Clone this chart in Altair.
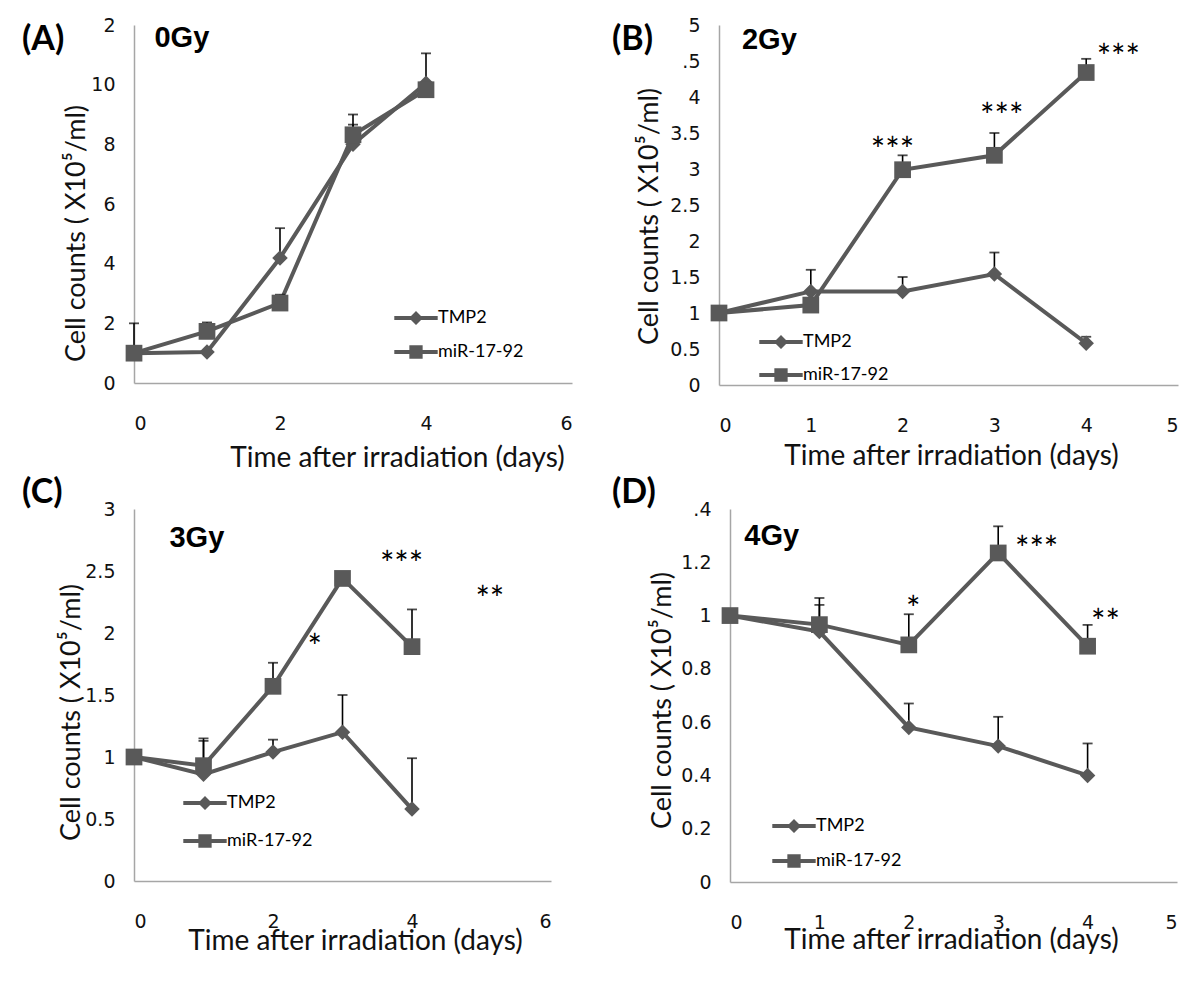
import altair as alt
import pandas as pd

# ---------------- data ----------------
days = [0, 1, 2, 3, 4]
series_names = ["TMP2", "miR-17-92"]

a_tmp2 = [1.0, 1.04, 4.19, 8.0, 10.05]
a_tmp2_err = [1.0, 0.0, 1.0, 0.66, 1.0]
a_mir = [1.0, 1.73, 2.68, 8.32, 9.83]
a_mir_err = [0.0, 0.30, 0.28, 0.68, 0.0]

b_tmp2 = [1.0, 1.30, 1.30, 1.54, 0.58]
b_tmp2_err = [0.0, 0.30, 0.20, 0.30, 0.09]
b_mir = [1.0, 1.11, 2.99, 3.19, 4.34]
b_mir_err = [0.0, 0.0, 0.20, 0.31, 0.19]

c_tmp2 = [1.0, 0.86, 1.04, 1.20, 0.58]
c_tmp2_err = [0.0, 0.27, 0.10, 0.30, 0.41]
c_mir = [1.0, 0.93, 1.57, 2.44, 1.89]
c_mir_err = [0.0, 0.22, 0.19, 0.0, 0.30]

d_tmp2 = [1.0, 0.94, 0.58, 0.51, 0.40]
d_tmp2_err = [0.0, 0.10, 0.09, 0.11, 0.12]
d_mir = [1.0, 0.966, 0.89, 1.235, 0.885]
d_mir_err = [0.0, 0.10, 0.115, 0.10, 0.08]

# significance stars (position in data units)
b_star_x = [1.89, 3.08, 4.35]
b_star_y = [3.36, 3.84, 4.65]
b_star_text = ["***", "***", "***"]
c_star_x = [2.60, 3.85, 5.12]
c_star_y = [1.94, 2.61, 2.33]
c_star_text = ["*", "***", "**"]
d_star_x = [2.05, 3.43, 4.20]
d_star_y = [1.05, 1.275, 1.004]
d_star_text = ["*", "***", "**"]

# panel tags and dose labels (position in data units of each panel)
panel_tags = ["(A)", "(B)", "(C)", "(D)"]
tag_x = [-1.534, -1.166, -1.61, -1.32]
tag_y = [11.5, 4.79, 3.129, 1.46]
dose_text = ["0Gy", "2Gy", "3Gy", "4Gy"]
dose_x = [0.28, 0.25, 0.51, 0.16]
dose_y = [11.57, 4.79, 2.77, 1.30]

a_xticks = [0, 2, 4, 6]
b_xticks = [0, 1, 2, 3, 4, 5]
c_xticks = [0, 2, 4, 6]
d_xticks = [0, 1, 2, 3, 4, 5]
a_yticks = [0, 2, 4, 6, 8, 10, 12]
b_yticks = [0, 0.5, 1, 1.5, 2, 2.5, 3, 3.5, 4, 4.5, 5]
c_yticks = [0, 0.5, 1, 1.5, 2, 2.5, 3]
d_yticks = [0, 0.2, 0.4, 0.6, 0.8, 1.0, 1.2, 1.4]

X_TITLE = "Time after irradiation (days)"
Y_TITLE = "Cell counts ( X10\u2075/ml)"

FONT = "Lato"
TICK_FONT = "DejaVu Sans"
LINE = "#595959"

# legend symbols: marker with a line through it (coordinates in unit box)
DIAMOND_PATH = "M-3.1,-0.28H3.1V0.28H-3.1Z M0,-1L1,0L0,1L-1,0Z"
SQUARE_PATH = "M-3.1,-0.28H3.1V0.28H-3.1Z M-0.95,-0.95H0.95V0.95H-0.95Z"


def series_frame(tmp2, tmp2_err, mir, mir_err):
    rows = []
    for d, v, e in zip(days, tmp2, tmp2_err):
        rows.append({"day": d, "value": v, "err": e, "series": series_names[0]})
    for d, v, e in zip(days, mir, mir_err):
        rows.append({"day": d, "value": v, "err": e, "series": series_names[1]})
    return pd.DataFrame(rows)


def make_panel(i, tmp2, tmp2_err, mir, mir_err, xmax, xticks, ymax, yticks,
               label_fix, width, height, stars, layout):
    df = series_frame(tmp2, tmp2_err, mir, mir_err)
    xaxis = alt.Axis(
        values=xticks, format="~g", title=X_TITLE, labelPadding=layout["xlp"],
        labelFont=TICK_FONT, labelFontSize=19,
        titleX=layout["xtx"], titleY=layout["xty"], titleAlign="center",
        titleBaseline="middle", titleFontSize=28,
    )
    lab_expr = "datum.label"
    if label_fix is not None:
        lab_expr = f"datum.value == {label_fix[0]} ? '{label_fix[1]}' : datum.label"
    yaxis = alt.Axis(
        values=yticks, format="~g", title=Y_TITLE, labelPadding=19,
        labelFont=TICK_FONT, labelFontSize=19,
        labelExpr=lab_expr, titleX=layout["ytx"], titleY=layout["yty"],
        titleAngle=270, titleAlign="center", titleBaseline="middle",
        titleFontSize=27,
    )
    xs = alt.Scale(domain=[0, xmax], nice=False, zero=True)
    ys = alt.Scale(domain=[0, ymax], nice=False, zero=True)
    X = alt.X("day:Q", scale=xs, axis=xaxis)
    Y = alt.Y("value:Q", scale=ys, axis=yaxis)

    base = alt.Chart(df)
    line = base.mark_line(color=LINE, strokeWidth=4).encode(
        x=X, y=Y, detail="series:N")
    err = base.transform_filter("datum.err > 0").transform_calculate(
        top="datum.value + datum.err")
    bars = err.mark_rule(color="black", strokeWidth=1.6).encode(
        x=X, y=Y, y2="top:Q")
    caps = err.mark_tick(orient="horizontal", color="black", thickness=1.8,
                         size=10).encode(x=X, y=alt.Y("top:Q", scale=ys, axis=yaxis))
    diam = base.transform_filter(
        alt.datum.series == series_names[0]).mark_point(
        shape="diamond", filled=True, color=LINE, size=240, opacity=1).encode(x=X, y=Y)
    sq = base.transform_filter(
        alt.datum.series == series_names[1]).mark_point(
        shape="square", filled=True, color=LINE, size=280, opacity=1).encode(x=X, y=Y)

    legend = alt.Legend(
        title=None, orient="none", legendX=layout["lx"], legendY=layout["ly"],
        symbolSize=196, symbolFillColor=LINE, symbolOpacity=1, labelFont=FONT,
        labelFontSize=18, labelColor="black", labelOffset=13,
        rowPadding=layout["lrp"], padding=0,
    )
    leg = base.transform_filter("false").mark_point(
        filled=True, color=LINE, opacity=1).encode(
        x=X, y=Y,
        shape=alt.Shape("series:N", scale=alt.Scale(
            domain=series_names, range=[DIAMOND_PATH, SQUARE_PATH]), legend=legend))

    lab_df = pd.DataFrame({"day": [dose_x[i]], "value": [dose_y[i]], "t": [dose_text[i]]})
    dose = alt.Chart(lab_df).mark_text(
        font="Liberation Sans", fontWeight="bold", fontSize=29, align="left",
        baseline="middle", color="black").encode(x=X, y=Y, text="t:N")
    tag_df = pd.DataFrame({"day": [tag_x[i]], "value": [tag_y[i]], "t": [panel_tags[i]]})
    tag = alt.Chart(tag_df).mark_text(
        font=FONT, fontWeight="bold", fontSize=34, align="left",
        baseline="middle", color="black").encode(x=X, y=Y, text="t:N")

    layers = [line, bars, caps, diam, sq, leg, dose, tag]
    if stars is not None:
        sdf = pd.DataFrame({"day": stars[0], "value": stars[1], "t": stars[2]})
        st = alt.Chart(sdf).mark_text(
            font=FONT, fontSize=34, align="center", baseline="middle", dy=9,
            color="black").encode(x=X, y=Y, text="t:N")
        layers.append(st)

    return alt.layer(*layers).properties(width=width, height=height)


A = make_panel(0, a_tmp2, a_tmp2_err, a_mir, a_mir_err, 6, a_xticks, 12, a_yticks,
               (12, "2"), 438, 358, None,
               dict(xlp=31, xtx=263, xty=75, ytx=-58, yty=208,
                    lx=273, ly=284, lrp=14))
B = make_panel(1, b_tmp2, b_tmp2_err, b_mir, b_mir_err, 5, b_xticks, 5, b_yticks,
               (4.5, ".5"), 459, 360, (b_star_x, b_star_y, b_star_text),
               dict(xlp=31, xtx=232, xty=71, ytx=-70, yty=191,
                    lx=53, ly=308, lrp=13))
C = make_panel(2, c_tmp2, c_tmp2_err, c_mir, c_mir_err, 6, c_xticks, 3, c_yticks,
               None, 417, 372, (c_star_x, c_star_y, c_star_text),
               dict(xlp=31, xtx=221, xty=60, ytx=-63, yty=203,
                    lx=62, ly=285, lrp=18))
D = make_panel(3, d_tmp2, d_tmp2_err, d_mir, d_mir_err, 5, d_xticks, 1.4, d_yticks,
               (1.4, ".4"), 447, 373, (d_star_x, d_star_y, d_star_text),
               dict(xlp=31, xtx=221, xty=58, ytx=-68, yty=191,
                    lx=55, ly=308, lrp=15))

top = alt.hconcat(A, B, spacing=147, bounds="flush").resolve_scale(
    shape="independent").resolve_legend(shape="independent")
bottom = alt.hconcat(C, D, spacing=179, bounds="flush").resolve_scale(
    shape="independent").resolve_legend(shape="independent")

chart = alt.vconcat(top, bottom, spacing=4).resolve_scale(
    shape="independent").resolve_legend(shape="independent").properties(
    padding={"left": 14, "top": 8, "right": 5, "bottom": 5},
    background="white",
).configure_view(stroke=None).configure_axis(
    grid=False, ticks=False, tickSize=0, domainColor="#a6a6a6", domainWidth=1.5,
    labelColor="#111111",
    titleFont=FONT, titleFontWeight="normal", titleColor="#111111",
)

chart.save("out.html", embed_options={"renderer": "svg", "actions": False})
